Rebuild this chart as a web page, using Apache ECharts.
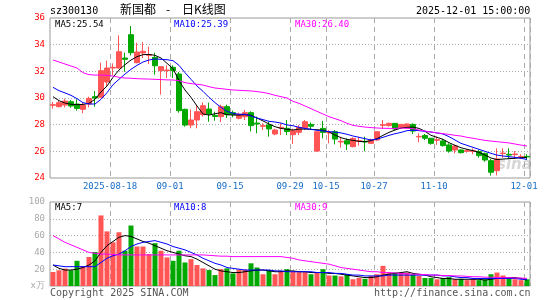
<!DOCTYPE html>
<html>
<head>
<meta charset="utf-8">
<script src="https://cdn.jsdelivr.net/npm/echarts@6/dist/echarts.min.js"></script>
<style>
html, body { margin: 0; padding: 0; background: #fff; }
#main { width: 545px; height: 300px; }
</style>
</head>
<body>
<div id="main"></div>
<script>
// trading days shown on the chart
var dates = [
  '2025-08-04','2025-08-05','2025-08-06','2025-08-07','2025-08-08','2025-08-11','2025-08-12','2025-08-13','2025-08-14','2025-08-15',
  '2025-08-18','2025-08-19','2025-08-20','2025-08-21','2025-08-22','2025-08-25','2025-08-26','2025-08-27','2025-08-28','2025-08-29',
  '2025-09-01','2025-09-02','2025-09-03','2025-09-04','2025-09-05','2025-09-08','2025-09-09','2025-09-10','2025-09-11','2025-09-12',
  '2025-09-15','2025-09-16','2025-09-17','2025-09-18','2025-09-19','2025-09-22','2025-09-23','2025-09-24','2025-09-25','2025-09-26',
  '2025-09-29','2025-09-30','2025-10-09','2025-10-10','2025-10-13','2025-10-14','2025-10-15','2025-10-16','2025-10-17','2025-10-20',
  '2025-10-21','2025-10-22','2025-10-23','2025-10-24','2025-10-27','2025-10-28','2025-10-29','2025-10-30','2025-10-31','2025-11-03',
  '2025-11-04','2025-11-05','2025-11-06','2025-11-07','2025-11-10','2025-11-11','2025-11-12','2025-11-13','2025-11-14','2025-11-17',
  '2025-11-18','2025-11-19','2025-11-20','2025-11-21','2025-11-24','2025-11-25','2025-11-26','2025-11-27','2025-11-28','2025-12-01'
]
var labelDates = ['2025-08-18', '2025-09-01', '2025-09-15', '2025-09-29', '2025-10-15', '2025-10-27', '2025-11-10', '2025-12-01']

var openP = [
  29.45, 29.35, 29.47, 29.72, 29.55, 29.15, 29.55, 30.10, 30.05, 31.20,
  32.25, 32.25, 33.00, 34.75, 32.65, 33.38, 33.20, 33.05, 32.05, 32.05,
  32.30, 31.80, 29.15, 27.97, 28.35, 28.75, 29.17, 28.70, 28.60, 29.35,
  28.90, 28.48, 28.60, 28.90, 28.12, 27.88, 27.98, 27.30, 27.75, 27.73,
  27.25, 27.43, 27.75, 28.02, 26.02, 27.72, 27.38, 27.47, 26.70, 26.80,
  26.35, 26.75, 26.75, 26.60, 26.85, 27.95, 27.93, 28.10, 27.77, 27.77,
  28.02, 27.08, 27.18, 26.98, 26.83, 26.78, 26.48, 26.10, 26.10, 26.00,
  26.00, 25.98, 25.85, 25.30, 24.55, 25.83, 25.78, 25.75, 25.58, 25.62
]
var closeP = [
  29.50, 29.65, 29.77, 29.40, 29.22, 29.47, 29.97, 30.00, 32.05, 32.25,
  32.30, 33.47, 32.90, 33.40, 33.45, 33.50, 33.25, 32.42, 32.35, 32.10,
  32.05, 29.05, 27.97, 28.35, 28.97, 29.42, 28.80, 28.62, 29.35, 28.75,
  28.75, 28.78, 28.90, 27.93, 28.05, 27.92, 27.68, 27.60, 27.80, 27.48,
  27.55, 27.80, 28.22, 27.88, 27.47, 27.42, 27.42, 26.92, 26.75, 26.55,
  26.97, 26.80, 26.70, 26.85, 27.47, 28.00, 28.10, 27.68, 28.02, 28.05,
  27.52, 27.12, 26.98, 26.60, 26.87, 26.43, 26.02, 26.40, 25.90, 26.05,
  26.05, 25.68, 25.35, 24.43, 25.43, 25.87, 25.72, 25.80, 25.62, 25.58
]
var highP = [
  29.70, 29.78, 29.95, 29.85, 29.90, 29.65, 30.10, 30.52, 32.65, 32.80,
  32.60, 34.70, 33.40, 35.40, 34.15, 34.20, 33.85, 33.40, 32.40, 32.45,
  32.45, 31.95, 29.20, 29.15, 29.47, 29.67, 29.65, 28.97, 29.50, 29.50,
  29.05, 28.90, 29.10, 29.00, 28.60, 28.10, 28.22, 27.70, 28.10, 28.35,
  27.70, 27.98, 28.35, 28.17, 27.50, 28.27, 27.60, 27.60, 27.10, 26.97,
  27.05, 27.10, 27.10, 26.95, 27.50, 28.35, 28.15, 28.12, 28.05, 28.10,
  28.10, 27.35, 27.30, 27.00, 27.10, 26.93, 26.60, 26.48, 26.15, 26.15,
  26.22, 26.10, 25.90, 25.43, 26.23, 26.23, 26.23, 26.03, 25.78, 25.78
]
var lowP = [
  29.20, 29.30, 29.30, 29.27, 29.05, 28.85, 29.30, 29.35, 30.00, 30.90,
  31.70, 32.20, 31.97, 33.20, 32.60, 33.00, 32.55, 31.75, 30.25, 31.50,
  31.50, 28.90, 27.85, 27.73, 27.73, 28.60, 28.22, 28.30, 28.20, 28.50,
  28.55, 28.40, 28.35, 27.50, 27.35, 27.60, 27.10, 27.20, 27.22, 27.22,
  26.55, 27.22, 27.60, 27.60, 25.95, 26.97, 26.60, 26.52, 26.28, 26.10,
  26.30, 26.43, 26.02, 26.55, 26.80, 27.68, 27.85, 27.60, 27.70, 27.70,
  27.30, 26.68, 26.85, 26.50, 26.48, 26.35, 25.90, 25.85, 25.85, 25.90,
  25.78, 25.52, 25.22, 24.18, 24.20, 25.52, 25.42, 25.42, 25.42, 25.35
]
var ma5 = [
  30.10, 29.80, 29.62, 29.53, 29.50, 29.52, 29.60, 29.90, 30.45, 30.90,
  31.55, 32.10, 32.50, 32.85, 33.10, 33.25, 33.27, 33.20, 33.00, 32.60,
  32.20, 31.30, 30.60, 30.05, 29.40, 28.80, 28.72, 28.82, 28.90, 28.75,
  28.72, 28.72, 28.75, 28.70, 28.50, 28.28, 28.05, 27.85, 27.72, 27.65,
  27.60, 27.67, 27.67, 27.65, 27.62, 27.58, 27.45, 27.22, 27.02, 26.90,
  26.82, 26.75, 26.72, 26.80, 26.95, 27.20, 27.42, 27.60, 27.75, 27.80,
  27.82, 27.72, 27.50, 27.20, 27.05, 26.90, 26.65, 26.45, 26.27, 26.15,
  26.05, 25.92, 25.72, 25.50, 25.38, 25.42, 25.45, 25.48, 25.52, 25.54
]
var ma10 = [
  30.80, 30.55, 30.38, 30.20, 29.95, 29.65, 29.55, 29.55, 29.90, 30.40,
  31.00, 31.40, 31.80, 32.15, 32.45, 32.70, 32.85, 32.93, 32.90, 32.87,
  32.80, 32.45, 31.90, 31.40, 30.90, 30.50, 30.05, 29.65, 29.30, 29.00,
  28.85, 28.78, 28.78, 28.65, 28.50, 28.38, 28.25, 28.20, 28.12, 27.98,
  27.92, 27.80, 27.72, 27.65, 27.58, 27.53, 27.48, 27.44, 27.38, 27.28,
  27.15, 27.05, 26.95, 26.85, 26.92, 27.05, 27.20, 27.32, 27.42, 27.55,
  27.58, 27.55, 27.50, 27.45, 27.38, 27.30, 27.10, 26.85, 26.60, 26.45,
  26.30, 26.15, 26.00, 25.85, 25.72, 25.65, 25.60, 25.55, 25.48, 25.39
]
var ma30 = [
  32.85, 32.70, 32.55, 32.40, 32.25, 31.90, 31.75, 31.72, 31.72, 31.70,
  31.65, 31.55, 31.50, 31.48, 31.45, 31.43, 31.42, 31.40, 31.38, 31.36,
  31.35, 31.30, 31.15, 31.08, 31.03, 30.97, 30.85, 30.75, 30.70, 30.65,
  30.60, 30.58, 30.55, 30.53, 30.48, 30.42, 30.33, 30.20, 30.10, 30.00,
  29.75, 29.60, 29.40, 29.20, 29.00, 28.80, 28.60, 28.45, 28.30, 28.10,
  27.95, 27.88, 27.82, 27.78, 27.75, 27.73, 27.72, 27.72, 27.75, 27.73,
  27.70, 27.60, 27.52, 27.45, 27.38, 27.33, 27.27, 27.20, 27.15, 27.05,
  26.98, 26.90, 26.82, 26.77, 26.72, 26.68, 26.63, 26.55, 26.47, 26.40
]
// volume, in 10k lots
var volume = [
  16.7, 18.7, 20.7, 18.7, 30.0, 23.5, 34.5, 40.5, 84.0, 65.0,
  52.0, 64.0, 42.0, 72.0, 47.0, 47.0, 38.0, 51.0, 42.0, 34.0,
  30.0, 42.0, 28.0, 32.0, 25.0, 21.0, 19.0, 13.0, 20.0, 21.0,
  15.0, 19.5, 19.5, 27.0, 22.0, 14.0, 19.0, 14.0, 18.0, 20.0,
  17.0, 16.5, 16.5, 14.0, 16.0, 20.0, 12.5, 12.5, 11.5, 14.0,
  8.0, 9.5, 8.5, 12.0, 14.0, 24.0, 16.0, 16.0, 16.0, 16.0,
  14.0, 12.0, 9.5, 9.5, 8.0, 9.5, 10.5, 8.0, 8.5, 7.0,
  8.0, 7.0, 8.0, 14.0, 16.0, 12.5, 9.5, 8.0, 7.0, 8.0
]
var vma5 = [
  25, 21, 19, 19, 20, 22, 25, 30, 40, 48,
  53, 58, 60, 59, 56, 53, 51, 48, 45, 42,
  40, 38, 36, 35, 32, 28, 24, 20, 18, 17,
  16, 16, 17, 18, 19, 19, 18, 17, 17, 18,
  18, 17, 17, 16, 16, 16, 15, 15, 14, 13,
  12, 11, 10, 10, 11, 13, 14, 15, 16, 17,
  15, 14, 13, 11, 10, 9, 9, 8, 8, 8,
  8, 8, 7, 8, 9, 10, 10, 10, 9, 7
]
var vma10 = [
  25, 24, 23, 23, 23, 23, 23, 23, 28, 33,
  36, 38, 42, 47, 50, 52, 53, 54, 52, 50,
  47, 45, 43, 40, 37, 33, 30, 27, 25, 22,
  21, 20, 19, 19, 19, 19, 19, 18, 18, 17,
  17, 17, 17, 17, 16, 16, 16, 15, 15, 14,
  13, 13, 12, 12, 12, 12, 13, 13, 13, 13,
  13, 13, 13, 13, 13, 12, 12, 11, 10, 10,
  9, 9, 9, 9, 9, 9, 9, 9, 8, 8
]
var vma30 = [
  60, 56, 52, 49, 46, 43, 40, 39, 38, 38,
  37.5, 37, 37, 37, 37, 37, 37, 37, 37, 37,
  37, 37, 37, 37, 37, 37, 36.5, 36, 35.5, 35.5,
  35, 35, 35, 35, 35, 35, 35, 35, 35, 34,
  33, 31, 30, 29, 28, 27, 26, 24, 22, 21,
  20, 19, 18, 17, 17, 16, 16, 15.5, 15, 14.5,
  14, 14, 13.5, 13, 13, 12.5, 12.5, 12, 12, 11.5,
  11, 11, 10.5, 10.5, 10, 10, 10, 9.5, 9.5, 9
]

var mono = 'DejaVu Sans Mono'
var upColor = '#ff5555'
var downColor = '#00a800'

function showDate(index, value) {
  return labelDates.indexOf(value) >= 0
}

var candles = []
var volBars = []
for (var i = 0; i < dates.length; i++) {
  candles.push([openP[i], closeP[i], lowP[i], highP[i]])
  volBars.push({
    value: volume[i],
    itemStyle: { color: closeP[i] >= openP[i] ? upColor : downColor }
  })
}

var hLine = { show: true, showMinLine: false, showMaxLine: false, lineStyle: { color: '#aaa', type: [1, 2], width: 1 } }
var vLine = { show: true, interval: showDate, lineStyle: { color: '#aaa', type: [5, 4], width: 1 } }

function maLine(name, data, color, xi, yi) {
  return {
    name: name,
    type: 'line',
    xAxisIndex: xi,
    yAxisIndex: yi,
    data: data,
    symbol: 'none',
    smooth: false,
    lineStyle: { color: color, width: 1 },
    z: 5
  }
}

function txt(text, x, y, color, size, font, align) {
  return {
    type: 'text',
    left: x,
    top: y,
    style: {
      text: text,
      fill: color,
      font: size + 'px "' + (font || mono) + '"',
      textAlign: align || 'left'
    },
    z: 100
  }
}

var last = dates.length - 1
var chart = echarts.init(document.getElementById('main'))
var option = {
  animation: false,
  backgroundColor: '#fff',
  grid: [
    { left: 50, top: 18, width: 480, height: 160, show: true, borderColor: '#999', borderWidth: 1 },
    { left: 50, top: 202, width: 480, height: 84, show: true, borderColor: '#999', borderWidth: 1 }
  ],
  xAxis: [
    {
      type: 'category',
      gridIndex: 0,
      data: dates,
      boundaryGap: true,
      axisLine: { show: false },
      axisTick: { show: false, interval: showDate },
      axisLabel: {
        interval: showDate,
        formatter: function (v) { return v === labelDates[0] ? v : v.slice(5) },
        color: '#1a6ec8',
        fontFamily: mono,
        fontSize: 9,
        margin: 4,
        padding: [0, 6, 0, 0]
      },
      splitLine: vLine
    },
    {
      type: 'category',
      gridIndex: 1,
      data: dates,
      boundaryGap: true,
      axisLine: { show: false },
      axisTick: { show: false, interval: showDate },
      axisLabel: { show: false },
      splitLine: vLine
    }
  ],
  yAxis: [
    {
      type: 'value',
      gridIndex: 0,
      min: 24,
      max: 36,
      interval: 2,
      axisLine: { show: false },
      axisTick: { show: false },
      axisLabel: { color: '#ff0000', fontFamily: mono, fontSize: 9, margin: 5 },
      splitLine: hLine
    },
    {
      type: 'value',
      gridIndex: 1,
      min: 0,
      max: 100,
      interval: 20,
      axisLine: { show: false },
      axisTick: { show: false },
      axisLabel: {
        color: '#aaa',
        fontFamily: mono,
        fontSize: 9,
        margin: 5,
        formatter: function (v) { return v === 0 ? 'x万' : v }
      },
      splitLine: hLine
    }
  ],
  series: [
    {
      name: 'K',
      type: 'candlestick',
      xAxisIndex: 0,
      yAxisIndex: 0,
      data: candles,
      barWidth: 5,
      itemStyle: {
        color: upColor,
        color0: downColor,
        borderColor: upColor,
        borderColor0: downColor,
        borderWidth: 1
      }
    },
    maLine('MA5', ma5, '#000000', 0, 0),
    maLine('MA10', ma10, '#0000ff', 0, 0),
    maLine('MA30', ma30, '#ff00ff', 0, 0),
    {
      name: 'VOL',
      type: 'bar',
      xAxisIndex: 1,
      yAxisIndex: 1,
      data: volBars,
      barWidth: 5
    },
    maLine('VMA5', vma5, '#000000', 1, 1),
    maLine('VMA10', vma10, '#0000ff', 1, 1),
    maLine('VMA30', vma30, '#ff00ff', 1, 1)
  ],
  graphic: [
    txt('sz300130', 50, 6, '#000', 10),
    txt('新国都', 120, 3, '#000', 12, 'Noto Sans CJK SC'),
    txt('-', 166, 3, '#000', 12, 'Noto Sans CJK SC'),
    txt('日K线图', 182, 3, '#000', 12, 'Noto Sans CJK SC'),
    txt('2025-12-01 15:00:00', 416, 6, '#000', 10),
    txt('MA5:' + ma5[last].toFixed(2), 55, 20, '#000', 9),
    txt('MA10:' + ma10[last].toFixed(2), 174, 20, '#0000ff', 9),
    txt('MA30:' + ma30[last].toFixed(2), 295, 20, '#ff00ff', 9),
    txt('MA5:' + Math.round(vma5[last]), 55, 203, '#000', 9),
    txt('MA10:' + Math.round(vma10[last]), 174, 203, '#0000ff', 9),
    txt('MA30:' + Math.round(vma30[last]), 295, 203, '#ff00ff', 9),
    txt('Copyright 2025 SINA.COM', 50, 288, '#555', 10),
    txt('http://finance.sina.com.cn', 374, 288, '#555', 10),
    {
      type: 'text',
      left: 497,
      top: 158,
      style: { text: 'sina', fill: 'rgba(140,140,140,0.35)', font: 'italic bold 15px "DejaVu Sans"' },
      z: 1
    }
  ]
}
chart.setOption(option)
</script>
</body>
</html>
